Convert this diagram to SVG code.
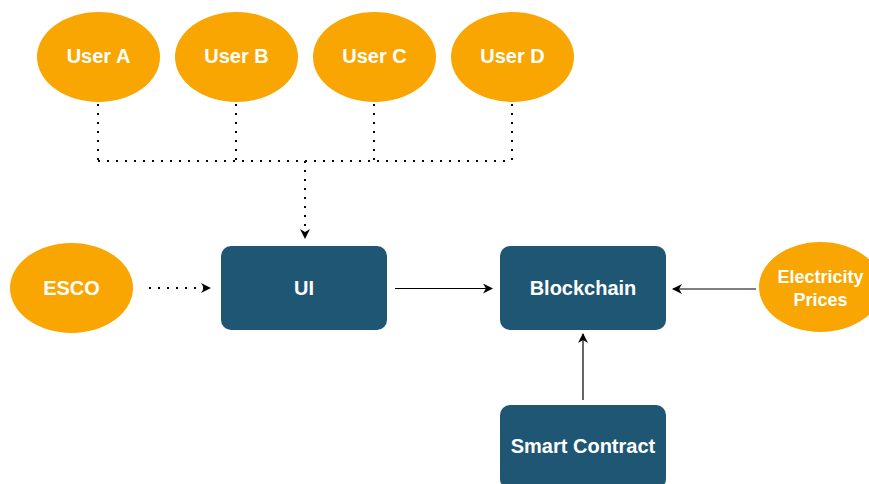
<svg xmlns="http://www.w3.org/2000/svg" width="869" height="484" viewBox="0 0 869 484">
<style>
.ell{fill:#F9A602}
.box{fill:#1F5673}
.t{font-family:"Liberation Sans",Arial,sans-serif;font-weight:bold;font-size:20px;fill:#fff;text-anchor:middle;dominant-baseline:central}
.s{font-size:18px}
.dot{fill:none;stroke:#000;stroke-width:2;stroke-dasharray:2 7}
.ln{fill:none;stroke:#000;stroke-width:1.2}
</style>
<defs>
<marker id="ah" viewBox="0 0 10 10" refX="9" refY="5" markerWidth="10" markerHeight="10" markerUnits="userSpaceOnUse" orient="auto">
<path d="M0,0 L10,5 L0,10 L3,5 Z" fill="#000"/>
</marker>
</defs>
<rect width="869" height="484" fill="#fff"/>
<g id="connectors">
<path class="dot" d="M98,104 V161 M236,104 V161 M374,104 V161 M512,104 V161 M98,161 H512"/>
<path class="dot" d="M305,161 V238" marker-end="url(#ah)"/>
<path class="dot" d="M149,288 H210" marker-end="url(#ah)"/>
<path class="ln" d="M395,288.5 H492" marker-end="url(#ah)"/>
<path class="ln" d="M756,289 H673" marker-end="url(#ah)"/>
<path class="ln" d="M583,400 V334" marker-end="url(#ah)"/>
</g>
<g id="userA"><ellipse class="ell" cx="98.5" cy="57" rx="61.5" ry="45"/><text class="t" x="98.5" y="56">User A</text></g>
<g id="userB"><ellipse class="ell" cx="236.5" cy="57" rx="61.5" ry="45"/><text class="t" x="236.5" y="56">User B</text></g>
<g id="userC"><ellipse class="ell" cx="374.5" cy="57" rx="61.5" ry="45"/><text class="t" x="374.5" y="56">User C</text></g>
<g id="userD"><ellipse class="ell" cx="512.5" cy="57" rx="61.5" ry="45"/><text class="t" x="512.5" y="56">User D</text></g>
<g id="esco"><ellipse class="ell" cx="71.5" cy="288" rx="61.5" ry="45"/><text class="t" x="71.5" y="288">ESCO</text></g>
<g id="ui"><rect class="box" x="221" y="246" width="166" height="84" rx="10"/><text class="t" x="304" y="288">UI</text></g>
<g id="blockchain"><rect class="box" x="500" y="246" width="166" height="84" rx="10"/><text class="t" x="583" y="288">Blockchain</text></g>
<g id="prices"><ellipse class="ell" cx="820.5" cy="287" rx="61.5" ry="45"/><text class="t s" x="820.5" y="277">Electricity</text><text class="t s" x="820.5" y="300">Prices</text></g>
<g id="smart"><rect class="box" x="500" y="405" width="166" height="84" rx="10"/><text class="t" x="583" y="446">Smart Contract</text></g>
</svg>
